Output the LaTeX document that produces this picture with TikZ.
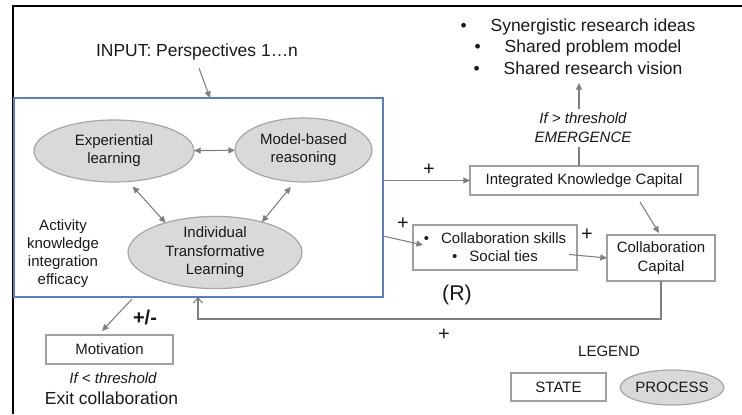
\documentclass[tikz,border=0pt]{standalone}
\usepackage{fontspec}
\setmainfont{Liberation Sans}
\usetikzlibrary{shapes.geometric,arrows.meta,calc}
\definecolor{arrgray}{HTML}{7F7F7F}
\definecolor{boxgray}{HTML}{A0A0A0}
\definecolor{ellfill}{HTML}{D9D9D9}
\definecolor{ellline}{HTML}{A6A6A6}
\definecolor{actblue}{HTML}{5A7EC0}
\newcommand\pxu{0.75pt}
\begin{document}
\begin{tikzpicture}[x=0.75pt,y=-0.75pt,
  every node/.style={inner sep=0pt, outer sep=0pt, text=black!90},
  fa/.style={font=\fontsize{11.25pt}{13.5pt}\selectfont},
  fbig/.style={font=\fontsize{13.1pt}{16.1pt}\selectfont},
  box/.style={draw=boxgray, line width=0.9pt, fa, align=center},
  proc/.style={ellipse, draw=ellline, fill=ellfill, line width=0.9pt, fa, align=center},
  arr/.style={draw=arrgray, line width=0.8pt, -{Triangle[length=5pt,width=4.5pt]}},
  dbl/.style={draw=arrgray, line width=0.8pt, {Triangle[length=5pt,width=4.5pt]}-{Triangle[length=5pt,width=4.5pt]}},
  plussign/.style={font=\fontsize{15pt}{15pt}\selectfont},
]
\useasboundingbox (0,0) rectangle (742,414);
\draw[line width=1.5pt] (742,6) -- (12.5,6) -- (12.5,414);

% activity box
\node[draw=actblue, line width=0.9pt, minimum width=369*\pxu, minimum height=199*\pxu, anchor=north west] (act) at (14,98) {};

\node[proc, minimum width=160*\pxu, minimum height=62*\pxu] (exp) at (114,151) {Experiential\\learning};
\node[proc, minimum width=137*\pxu, minimum height=64*\pxu] (mod) at (303.5,150) {Model-based\\reasoning};
\node[proc, minimum width=174*\pxu, minimum height=71*\pxu, font=\fontsize{11.25pt}{13.9pt}\selectfont] (itl) at (215,252.5) {Individual\\Transformative\\Learning};
\node[fa, align=center] (aki) at (63,253.5) {Activity\\knowledge\\integration\\efficacy};

\draw[dbl] (exp) -- (mod);
\draw[dbl, shorten <=5pt] (exp.-65) -- (itl.149);
\draw[dbl, shorten <=5pt] (mod.-105) -- (itl.33);

% input
\node[fbig] (inp) at (197,52) {INPUT: Perspectives 1…n};
\draw[arr] ($(inp.south)+(2,8)$) -- ($(act.north west)+(196,0)$);

% integrated knowledge capital
\node[box, minimum width=228*\pxu, minimum height=29*\pxu] (ikc) at (584,180.5) {Integrated Knowledge Capital};
\draw[arr] (act.east |- ikc.west) -- (ikc.west);
\node[plussign] (p1) at (429,170) {+};

% emergence
\draw[arr] ($(ikc.north)+(-5,0)$) -- ++(0,-83);
\node[fill=white, inner sep=3pt, align=center, font=\fontsize{11.25pt}{14.25pt}\selectfont\itshape] (emg) at (583,128) {If > threshold\\EMERGENCE};
\node[fbig, align=center] (out) at (578,46.5) {•\hspace{18pt}Synergistic research ideas\\ •\hspace{18pt}Shared problem model\\ •\hspace{18pt}Shared research vision};

% collaboration skills
\node[box, minimum width=164*\pxu, minimum height=45*\pxu] (csk) at (495,247.5) {•\hspace{9pt}Collaboration skills\\ •\hspace{9pt}Social ties};
\draw[arr] ($(act.north east)+(0,138)$) -- ($(csk.west)+(10,-2.5)$);
\node[plussign] (p2) at (403,224) {+};

% collaboration capital
\node[box, minimum width=108*\pxu, minimum height=46*\pxu, font=\fontsize{11.25pt}{14.25pt}\selectfont] (cc) at (661,258) {Collaboration\\Capital};
\draw[arr] ($(csk.east)+(-8,7)$) -- (cc.west);
\node[plussign] (p3) at (587,235) {+};
\draw[arr] ($(ikc.south)+(56,7)$) -- ($(cc.north)+(-2,-2)$);

% feedback loop
\draw[draw=arrgray, line width=0.8pt, -{Straight Barb[length=4pt,width=7pt]}] (cc.south) -- ++(0,38) -| ($(act.south west)+(184,0)$);
\node[font=\fontsize{16pt}{16pt}\selectfont] (rr) at (457,295) {(R)};
\node[plussign] (p4) at (444,335) {+};

% motivation
\node[box, minimum width=127*\pxu, minimum height=29*\pxu] (mot) at (109.5,349.5) {Motivation};
\draw[arr] ($(act.south west)+(118,2)$) -- ($(mot.north)+(-7.5,-4)$);
\node[font=\fontsize{15pt}{15pt}\selectfont\bfseries] (pm) at (145,317) {+/-};
\node[font=\fontsize{11.25pt}{11.25pt}\selectfont\itshape] (thr) at (113,378) {If < threshold};
\node[fbig] (exit) at (111.5,398) {Exit collaboration};

% legend
\node[fa] (leg) at (609,351) {LEGEND};
\node[box, minimum width=95*\pxu, minimum height=28*\pxu] (st) at (558.5,387) {STATE};
\node[proc, minimum width=93*\pxu, minimum height=35*\pxu] (pr) at (672,387.5) {PROCESS};
\end{tikzpicture}
\end{document}
